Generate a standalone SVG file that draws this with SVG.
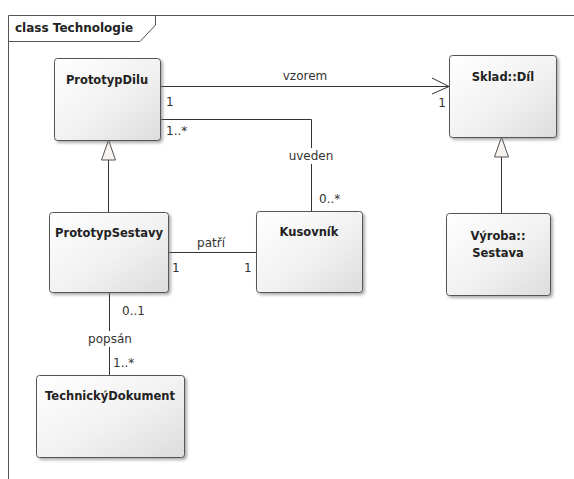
<svg xmlns="http://www.w3.org/2000/svg" width="574" height="479" viewBox="0 0 574 479">
  <defs>
    <linearGradient id="nodeFill" x1="0" y1="0" x2="1" y2="1">
      <stop offset="0" stop-color="#ffffff"/>
      <stop offset="0.55" stop-color="#f1f1f1"/>
      <stop offset="1" stop-color="#dcdcdc"/>
    </linearGradient>
    <linearGradient id="sheen" x1="0" y1="0" x2="1" y2="0">
      <stop offset="0" stop-color="#ffffff" stop-opacity="0"/>
      <stop offset="1" stop-color="#ffffff" stop-opacity="0.9"/>
    </linearGradient>
    <filter id="shadow" x="-10%" y="-10%" width="130%" height="130%">
      <feDropShadow dx="2" dy="2" stdDeviation="1.5" flood-color="#777" flood-opacity="0.6"/>
    </filter>
  </defs>
  <style>
    .frame { fill: none; stroke: #555; stroke-width: 1; }
    .box { fill: url(#nodeFill); stroke: #555; stroke-width: 1; filter: url(#shadow); }
    .title { font-family: "DejaVu Sans", Verdana, sans-serif; font-weight: bold; font-size: 11.5px; fill: #222; text-anchor: middle; }
    .lbl { font-family: "DejaVu Sans", Verdana, sans-serif; font-size: 12px; fill: #333; }
    .mid { text-anchor: middle; }
    .end { text-anchor: end; }
    .line { fill: none; stroke: #333; stroke-width: 1; }
    .gen { fill: #f7f3ef; stroke: #555; stroke-width: 1; }
    .bg { fill: #fff; }
  </style>

  <rect width="574" height="479" fill="#fff"/>

  <!-- diagram frame with name tab -->
  <g id="frame">
    <path class="frame" d="M8.5,479 V15.5 H574"/>
    <path class="frame" d="M8.5,41.5 H140 L155.5,25 V15.5"/>
    <text x="15" y="32" style="font-family: 'DejaVu Sans', Verdana, sans-serif; font-weight: bold; font-size: 12px; fill: #222;">class Technologie</text>
  </g>

  <!-- connectors -->
  <g id="connectors">
    <!-- vzorem -->
    <path class="line" d="M160,86.5 H449"/>
    <path class="line" d="M432,78 L449,86.5 L432,94"/>
    <text class="lbl mid" x="305" y="80">vzorem</text>
    <text class="lbl" x="166" y="106">1</text>
    <text class="lbl end" x="446" y="107">1</text>

    <!-- uveden -->
    <path class="line" d="M160,119.5 H311.5 V211"/>
    <rect class="bg" x="285" y="148" width="52" height="16"/>
    <text class="lbl mid" x="311" y="160">uveden</text>
    <text class="lbl" x="166" y="135">1..*</text>
    <text class="lbl" x="319" y="203">0..*</text>

    <!-- PrototypSestavy generalizes PrototypDilu -->
    <path class="line" d="M108.5,212 V160"/>
    <polygon class="gen" points="108.5,140 101.5,160 115.5,160"/>

    <!-- Výroba::Sestava generalizes Sklad::Díl -->
    <path class="line" d="M501.5,213 V157"/>
    <polygon class="gen" points="501.5,137 494.5,157 508.5,157"/>

    <!-- patří -->
    <path class="line" d="M168,252.5 H256"/>
    <text class="lbl mid" x="211" y="247">patří</text>
    <text class="lbl" x="172" y="272">1</text>
    <text class="lbl" x="244" y="272">1</text>

    <!-- popsán -->
    <path class="line" d="M109.5,292 V375"/>
    <rect class="bg" x="84" y="331" width="52" height="16"/>
    <text class="lbl mid" x="110" y="343">popsán</text>
    <text class="lbl" x="122" y="315">0..1</text>
    <text class="lbl" x="113" y="367">1..*</text>
  </g>

  <!-- classes -->
  <g id="PrototypDilu">
    <rect class="box" x="54.5" y="58.5" width="106" height="82" rx="3"/>
    <text class="title" x="107" y="84">PrototypDilu</text>
  </g>

  <g id="SkladDil">
    <rect class="box" x="449.5" y="55.5" width="107" height="82" rx="3"/>
    <text class="title" x="503" y="81">Sklad::Díl</text>
  </g>

  <g id="PrototypSestavy">
    <rect class="box" x="49.5" y="212.5" width="119" height="80" rx="3"/>
    <text class="title" x="109" y="237">PrototypSestavy</text>
  </g>

  <g id="Kusovnik">
    <rect class="box" x="256.5" y="211.5" width="106" height="81" rx="3"/>
    <text class="title" x="309" y="236">Kusovník</text>
  </g>

  <g id="VyrobaSestava">
    <rect class="box" x="446.5" y="213.5" width="104" height="82" rx="3"/>
    <text class="title" x="498" y="240">Výroba::</text>
    <text class="title" x="498" y="257">Sestava</text>
  </g>

  <g id="TechnickyDokument">
    <rect class="box" x="36.5" y="375.5" width="148" height="82" rx="3"/>
    <text class="title" x="110" y="400">TechnickýDokument</text>
  </g>
</svg>
